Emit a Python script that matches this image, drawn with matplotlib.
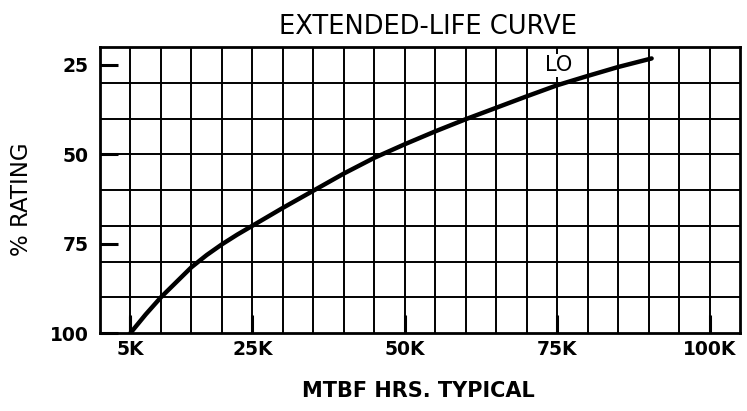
import matplotlib
matplotlib.use("Agg")
import matplotlib.pyplot as plt

plt.rcParams['font.family'] = ['DejaVu Sans']

# Data (MTBF in thousands of hours, % rating)
mtbf_k = [5, 7.5, 10, 12.5, 15, 17.5, 20, 22.5, 25, 30, 35, 40, 45, 50, 55, 60, 65, 70, 75, 80, 85, 90.5]
rating = [100, 94.8, 90, 85.8, 81.6, 78.2, 75.2, 72.5, 70, 65, 60.2, 55.4, 51, 47.2, 43.6, 40.2,
          37, 33.8, 30.7, 28.1, 25.6, 23.2]
hook_x = [5, 5]
hook_y = [100, 95.8]

x_ticks = [5, 25, 50, 75, 100]
x_tick_labels = ["5K", "25K", "50K", "75K", "100K"]
y_ticks = [25, 50, 75, 100]
y_tick_labels = ["25", "50", "75", "100"]

title = "EXTENDED-LIFE CURVE"
xlabel = "MTBF HRS. TYPICAL"
ylabel = "% RATING"
curve_label = "LO"

W, H = 747, 411
fig = plt.figure(figsize=(W / 100, H / 100), dpi=100)
ax = fig.add_axes([100 / W, 1 - 333 / H, 640 / W, 286 / H])

ax.set_xlim(0, 105)
ax.set_ylim(100, 20)

# chart-paper grid: every 5K horizontally, every 10 % vertically
grid_x = list(range(5, 105, 5))
grid_y = list(range(30, 100, 10))
ax.vlines(grid_x, 20, 100, color='black', linewidth=1.4, zorder=1)
ax.hlines(grid_y, 0, 105, color='black', linewidth=1.4, zorder=1)

ax.set_xticks(x_ticks)
ax.set_xticklabels(x_tick_labels, fontsize=13.5, fontweight='bold')
ax.set_yticks(y_ticks)
ax.set_yticklabels(y_tick_labels, fontsize=13.5, fontweight='bold')
ax.tick_params(axis='both', which='major', direction='in', length=13, width=2.2, color='black')
ax.tick_params(axis='y', which='major', pad=8)
ax.tick_params(axis='x', which='major', pad=5)

for s in ax.spines.values():
    s.set_linewidth(2.0)
    s.set_color('black')

ax.plot(mtbf_k, rating, color='black', linewidth=3.2, solid_capstyle='round',
        solid_joinstyle='round', zorder=5)
ax.plot(hook_x, hook_y, color='black', linewidth=2.2, zorder=5)

ax.text(75.3, 25.1, curve_label, fontsize=15, ha='center', va='center', zorder=4,
        bbox=dict(facecolor='white', edgecolor='none', pad=1.0))

fig.text(428 / W, 1 - 27 / H, title, fontsize=18.5, ha='center', va='center')
fig.text(418 / W, 1 - 391 / H, xlabel, fontsize=15, fontweight='bold', ha='center', va='center')
fig.text(22 / W, 1 - 199 / H, ylabel, fontsize=16.5, rotation=90, ha='center', va='center')

fig.savefig("out.png", dpi=100, facecolor='white')
